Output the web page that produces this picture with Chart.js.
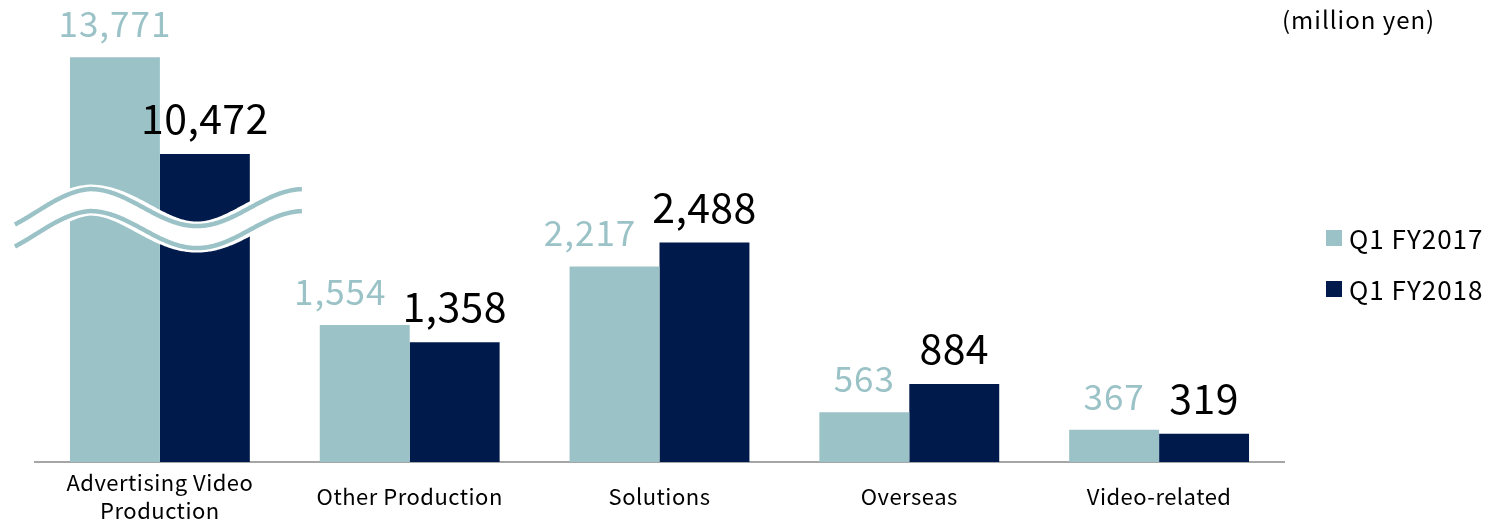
<!DOCTYPE html>
<html>
<head>
<meta charset="utf-8">
<script src="https://cdn.jsdelivr.net/npm/chart.js@4/dist/chart.umd.min.js"></script>
<style>
  html, body { margin: 0; padding: 0; background: #ffffff; }
  #wrap { width: 1493px; height: 523px; position: relative; }
</style>
</head>
<body>
<div id="wrap"><canvas id="c" width="1493" height="523"></canvas></div>
<script>
// ---- data ----
const categories = [["Advertising Video", "Production"], "Other Production", "Solutions", "Overseas", "Video-related"];
const seriesNames = ["Q1 FY2017", "Q1 FY2018"];
const fy2017 = [13771, 1554, 2217, 563, 367];
const fy2018 = [10472, 1358, 2488, 884, 319];
const unitLabel = "(million yen)";

// broken axis: values between breakLow and breakHigh are cut out, upper part compressed
const breakLow = 3000;
const breakHigh = 9000;
const upperCompression = 3;
function toAxis(v) {
  if (v <= breakLow) return v;
  if (v >= breakHigh) return breakLow + (v - breakHigh) / upperCompression;
  return breakLow;
}

const colors = ["#9bc3c7", "#001a4b"];
const labelColors = ["#9bc3c7", "#000000"];
const labelSizes = [35, 41];
const labelSpacing = ['1px', '0.4px'];
const FONT = "'Noto Sans CJK JP', 'Noto Sans', sans-serif";

const spacingPlugin = {
  id: 'spacing',
  beforeDraw(chart) { chart.ctx.letterSpacing = '0.5px'; }
};

const labelPlugin = {
  id: 'valueLabels',
  afterDatasetsDraw(chart) {
    const ctx = chart.ctx;
    const raw = [fy2017, fy2018];
    ctx.save();
    ctx.textBaseline = 'alphabetic';
    ctx.textAlign = 'center';
    const m0 = chart.getDatasetMeta(0).data;
    const m1 = chart.getDatasetMeta(1).data;
    for (let i = 0; i < categories.length; i++) {
      const t0 = raw[0][i].toLocaleString('en-US');
      const t1 = raw[1][i].toLocaleString('en-US');
      ctx.letterSpacing = labelSpacing[0];
      ctx.font = labelSizes[0] + 'px ' + FONT;
      const w0 = ctx.measureText(t0).width;
      ctx.letterSpacing = labelSpacing[1];
      ctx.font = labelSizes[1] + 'px ' + FONT;
      const w1 = ctx.measureText(t1).width;
      const y0 = m0[i].y - 20, y1 = m1[i].y - 20;
      let x0 = m0[i].x;
      const x1 = m1[i].x;
      // avoid horizontal collision when vertically close
      const vertOverlap = Math.abs(y0 - y1) < 45;
      const gap = 16;
      const right0 = x0 + w0 / 2, left1 = x1 - w1 / 2;
      if (vertOverlap && right0 > left1 - gap) x0 -= (right0 - (left1 - gap));
      ctx.letterSpacing = labelSpacing[0];
      ctx.font = labelSizes[0] + 'px ' + FONT;
      ctx.fillStyle = labelColors[0];
      ctx.fillText(t0, x0, y0);
      ctx.letterSpacing = labelSpacing[1];
      ctx.font = labelSizes[1] + 'px ' + FONT;
      ctx.fillStyle = labelColors[1];
      ctx.fillText(t1, x1, y1);
    }
    ctx.restore();
  }
};

const breakPlugin = {
  id: 'breakMark',
  afterDatasetsDraw(chart) {
    const ctx = chart.ctx;
    const xs = chart.scales.x, ys = chart.scales.y;
    const cx = xs.getPixelForValue(0);
    const cy = ys.getPixelForValue(breakLow * 0.92);
    const x0 = cx - 145, x1 = cx + 142;
    const amp = 18.5, period = 214, phaseX = cx + 37;
    function path(off) {
      ctx.beginPath();
      for (let x = x0; x <= x1; x += 1) {
        const y = cy + off + amp * Math.cos(2 * Math.PI * (x - phaseX) / period) + (x < cx - 70 ? (cx - 70 - x) * 0.08 : 0);
        if (x === x0) ctx.moveTo(x, y); else ctx.lineTo(x, y);
      }
    }
    ctx.save();
    ctx.lineCap = 'butt';
    path(0);
    ctx.strokeStyle = '#ffffff';
    ctx.lineWidth = 31;
    ctx.stroke();
    ctx.strokeStyle = colors[0];
    ctx.lineWidth = 4.5;
    path(-11); ctx.stroke();
    path(11); ctx.stroke();
    ctx.restore();
  }
};

const legendPlugin = {
  id: 'sideLegend',
  afterDraw(chart) {
    const ctx = chart.ctx;
    ctx.save();
    ctx.letterSpacing = '1px';
    ctx.font = '24px ' + FONT;
    ctx.fillStyle = '#000';
    ctx.textAlign = 'left';
    ctx.textBaseline = 'middle';
    ctx.fillText(unitLabel, 1282, 20);
    ctx.font = '26px ' + FONT;
    const ys = [238, 289];
    for (let i = 0; i < seriesNames.length; i++) {
      ctx.fillStyle = colors[i];
      ctx.fillRect(1326, ys[i] - 8, 16, 16);
      ctx.fillStyle = '#000';
      ctx.fillText(seriesNames[i], 1349, ys[i] + 1);
    }
    ctx.restore();
  }
};

new Chart(document.getElementById('c'), {
  type: 'bar',
  data: {
    labels: categories,
    datasets: [
      { label: seriesNames[0], data: fy2017.map(toAxis), backgroundColor: colors[0], borderWidth: 0 },
      { label: seriesNames[1], data: fy2018.map(toAxis), backgroundColor: colors[1], borderWidth: 0 }
    ]
  },
  options: {
    responsive: false,
    animation: false,
    devicePixelRatio: 1,
    layout: { padding: { left: 35, right: 209, top: 21, bottom: 0 } },
    datasets: { bar: { categoryPercentage: 0.72, barPercentage: 1.0 } },
    plugins: { legend: { display: false }, tooltip: { enabled: false } },
    scales: {
      x: {
        grid: { display: false, drawTicks: false },
        border: { display: true, color: '#a6a6a6', width: 2 },
        ticks: {
          color: '#000',
          font: { family: FONT, size: 22, lineHeight: 28 / 22 },
          padding: 21,
          crossAlign: 'center',
          maxRotation: 0,
          autoSkip: false
        },
        afterFit(scale) { scale.height = 61; }
      },
      y: { display: false, min: 0, max: 5000 }
    }
  },
  plugins: [spacingPlugin, breakPlugin, labelPlugin, legendPlugin]
});
</script>
</body>
</html>
